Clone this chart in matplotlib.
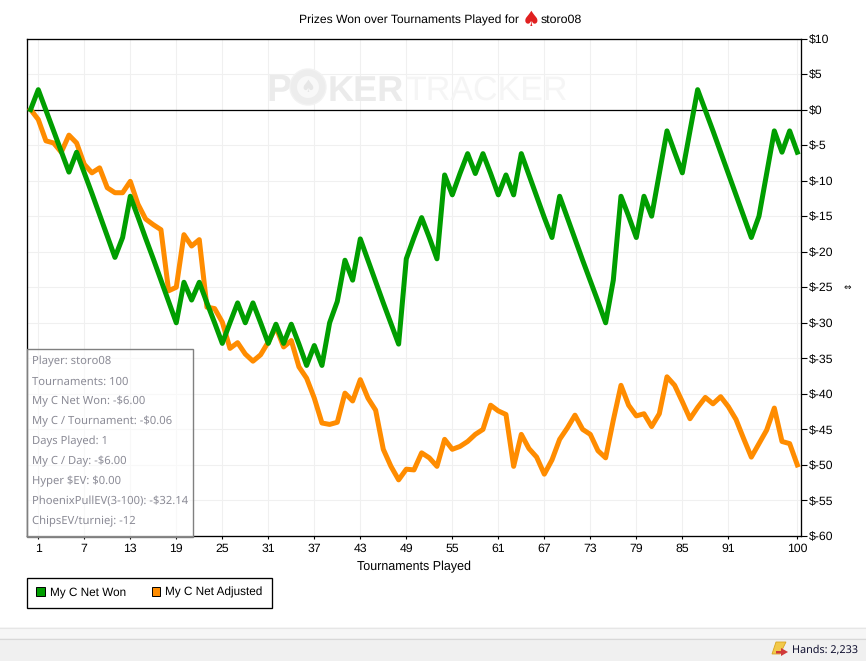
from matplotlib import pyplot as plt
from matplotlib.patches import Patch, Polygon, Rectangle, Circle
from matplotlib.transforms import Affine2D, IdentityTransform
import numpy as np

plt.rcParams['text.parse_math'] = False
plt.rcParams['text.hinting'] = 'no_hinting'

W = 866
H = 661

net_won = [0, 2.8, -0.1, -3, -5.9, -8.8, -6, -8.9, -11.8, -14.8, -17.8,
           -20.8, -18, -12.2, -15.1, -18.1, -21, -24, -27, -30, -24.3,
           -26.8, -24.3, -27.2, -30, -32.9, -30, -27.2, -30, -27.2, -30,
           -32.9, -30.2, -32.9, -30.2, -33, -36, -33.2, -36, -30, -27,
           -21.2, -24, -18.2, -21.2, -24.2, -27.2, -30.1, -33, -21, -18,
           -15.2, -18, -21, -9.2, -12, -9, -6.2, -9, -6.2, -9,
           -12, -9.2, -12, -6.2, -9.2, -12.2, -15.2, -18, -12.2, -15.2,
           -18.2, -21.2, -24.1, -27, -30, -24, -12.2, -15, -18, -12.2,
           -15, -9, -3, -6, -8.9, -3, 2.8, -0.1, -3, -6,
           -9, -12, -15, -18, -15, -9, -3, -6, -3, -6]

net_adjusted = [0, -1.4, -4.4, -4.7, -6, -3.6, -4.7, -7.7, -8.9, -8.2, -11,
                -11.7, -11.7, -10.1, -13.3, -15.4, -16.2, -16.9, -25.5, -25, -17.6,
                -19.2, -18.3, -27.8, -28, -29.9, -33.6, -32.8, -34.4, -35.4, -34.5,
                -32.7, -30.6, -33.4, -32.5, -36.2, -37.8, -40.6, -44.1, -44.3, -44,
                -39.9, -41, -38, -40.6, -42.3, -47.8, -50.2, -52.1, -50.6, -50.7,
                -48.3, -49, -50.2, -46.4, -47.8, -47.4, -46.7, -45.7, -45, -41.6,
                -42.4, -42.9, -50.2, -45.7, -47.7, -48.9, -51.3, -49.3, -46.4, -44.8,
                -43, -45, -45.7, -48, -49, -43.7, -38.8, -41.6, -43.1, -42.8,
                -44.6, -42.8, -37.6, -38.8, -41.1, -43.5, -41.9, -40.5, -41.4, -40.4,
                -41.8, -43.6, -46.3, -48.9, -47, -45.1, -42, -46.7, -47, -50]

x_ticks = [1, 7, 13, 19, 25, 31, 37, 43, 49, 55, 61, 67, 73, 79, 85, 91, 100]
y_ticks = [10, 5, 0, -5, -10, -15, -20, -25, -30, -35, -40, -45, -50, -55, -60]
y_labels = ['$10', '$5', '$0', '$-5', '$-10', '$-15', '$-20', '$-25', '$-30',
            '$-35', '$-40', '$-45', '$-50', '$-55', '$-60']

info_lines = ['Player: storo08', 'Tournaments: 100', 'My C Net Won: -$6.00',
              'My C / Tournament: -$0.06', 'Days Played: 1', 'My C / Day: -$6.00',
              'Hyper $EV: $0.00', 'PhoenixPullEV(3-100): -$32.14', 'ChipsEV/turniej: -12']

GREEN = '#009e00'
ORANGE = '#ff8c00'
SANS = 'Liberation Sans'

# pixel coords of the screenshot, y going down
px = Affine2D().scale(1, -1).translate(0, H)

fig = plt.figure(figsize=(W / 100, H / 100), dpi=100)
ax = fig.add_axes([27 / W, 1 - 536 / H, 774 / W, 497.5 / H])

n = np.arange(len(net_won))
ax.plot(n, net_adjusted, color=ORANGE, lw=3.6, zorder=5)
ax.plot(n, net_won, color=GREEN, lw=3.6, zorder=6)
ax.axhline(0, color='black', lw=0.9, zorder=4)

ax.set_xlim(-0.47, 100.48)
ax.set_ylim(-60, 10)
ax.set_xticks(x_ticks)
ax.set_xticklabels([str(t) for t in x_ticks], family=SANS, fontsize=8.8)
ax.set_yticks(y_ticks)
ax.set_yticklabels(y_labels, family=SANS, fontsize=8.8)
ax.yaxis.tick_right()
ax.tick_params(axis='x', length=2.5, width=0.8, pad=3)
ax.tick_params(axis='y', length=4, width=0.8, pad=2)
ax.grid(True, color='#f0f0f0', lw=0.8)
ax.set_axisbelow(True)
for s in ax.spines.values():
    s.set_linewidth(0.95)
ax.set_xlabel('Tournaments Played', family=SANS, fontsize=9, labelpad=4.5)

# watermark
ax.text(266, 101, 'P', transform=px, family=SANS, weight='bold', fontsize=27,
        color='#ebebeb', va='baseline', zorder=1)
ax.text(328, 101, 'KER', transform=px, family=SANS, weight='bold', fontsize=26,
        color='#ebebeb', va='baseline', zorder=1)
ax.text(405, 101, 'TRACKER', transform=px, family=SANS, fontsize=24.5,
        color='#f5f5f5', va='baseline', zorder=1)
ax.add_patch(Circle((308, 87), 18, transform=px, fc='#ededed', ec='#f2f2f2', zorder=1))
ax.add_patch(Circle((308, 87), 11, transform=px, fc='#f8f8f8', ec='none', zorder=1))
ax.text(308, 87, '\u2660', transform=px, family='DejaVu Sans', fontsize=12, color='#e6e6e6',
        ha='center', va='center', zorder=1)

# info box
ax.add_patch(Rectangle((27, 348.5), 165.5, 188, transform=px, fc=(1, 1, 1, 0.55),
                       ec='#808080', lw=1, zorder=7, clip_on=False))
for i, line in enumerate(info_lines):
    ax.text(32, 361.5 + 20 * i, line, transform=px, family='Noto Sans', fontsize=8.1,
            color='#8b8b96', va='center', zorder=8)

# title with the site icon
ax.text(299, 20, 'Prizes Won over Tournaments Played for', transform=px, family=SANS,
        fontsize=8.75, va='center')
ax.text(531, 20, '\u2660', transform=px, family='DejaVu Sans', fontsize=15, color='#e02020',
        ha='center', va='center')
ax.text(541, 20, 'storo08', transform=px, family=SANS, fontsize=8.9, va='center')

# legend
handles = [Patch(fc=GREEN, ec='black', lw=0.7, label='My C Net Won'),
           Patch(fc=ORANGE, ec='black', lw=0.7, label='My C Net Adjusted')]
leg = ax.legend(handles=handles, ncol=2, loc='upper left', bbox_to_anchor=(27, H - 577.5),
                bbox_transform=IdentityTransform(), borderaxespad=0, fancybox=False,
                framealpha=1, edgecolor='black', handlelength=0.75, handleheight=0.75,
                handletextpad=0.4, columnspacing=2.15, borderpad=0.8,
                prop={'family': SANS, 'size': 8.5})
leg.get_frame().set_linewidth(0.95)

# resize cursor next to the axis
ax.text(847, 287, '\u21d4', transform=px, family='DejaVu Sans', fontsize=6.5, ha='center',
        va='center', clip_on=False)

# status bar
ax.add_patch(Rectangle((0, 627), W, 11, transform=px, fc='#f6f6f6', ec='none', clip_on=False))
ax.add_patch(Rectangle((0, 638), W, 23, transform=px, fc='#f0f0f0', ec='none', clip_on=False))
ax.plot([0, W], [627.5, 627.5], transform=px, color='#e6e6e6', lw=0.8, clip_on=False)
ax.plot([0, W], [638.5, 638.5], transform=px, color='#d8d8d8', lw=0.8, clip_on=False)
ax.add_patch(Polygon([(776, 642), (786, 642), (780, 654), (772, 654)], transform=px,
                     fc='#f2c94a', ec='#d9a520', lw=0.6, clip_on=False))
ax.add_patch(Polygon([(776, 651), (781, 651), (781, 648), (788, 652), (781, 656), (781, 653.5),
                      (776, 653.5)], transform=px, fc='#d03a3a', ec='none', clip_on=False))
ax.text(792, 650, 'Hands: 2,233', transform=px, family='Noto Sans', fontsize=7.8,
        color='#101030', va='center', clip_on=False)

fig.savefig('out.png', dpi=100)
